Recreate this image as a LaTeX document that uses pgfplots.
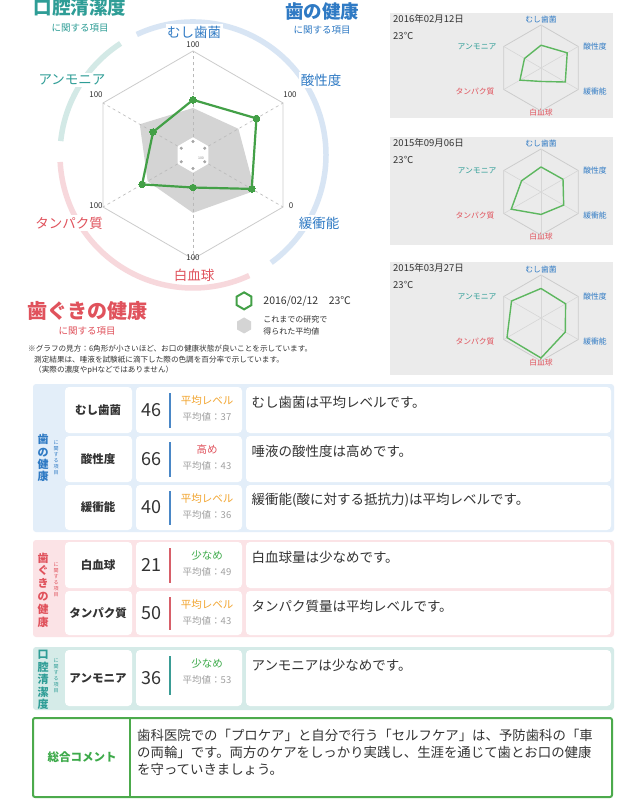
\documentclass[border=0pt]{standalone}
\usepackage{pgfplots}
\pgfplotsset{compat=1.18}
\usepgfplotslibrary{polar}
\usepackage{pgfplotstable}
\usepackage{fontspec}
\setmainfont{Noto Sans CJK JP}
\newcommand{\fs}[1]{\fontsize{#1}{#1}\selectfont}

\definecolor{cteal}{HTML}{2E9D96}
\definecolor{cblue}{HTML}{2F7AC4}
\definecolor{cred}{HTML}{E0525C}
\definecolor{arcteal}{HTML}{D3E9E6}
\definecolor{arcblue}{HTML}{D8E5F4}
\definecolor{arcred}{HTML}{F7D8DC}
\definecolor{cgreen}{HTML}{43A047}
\definecolor{pgreen}{HTML}{5DB75F}
\definecolor{gfill}{HTML}{D4D4D4}
\definecolor{ggrid}{HTML}{CCCCCC}
\definecolor{panel}{HTML}{EBEBEB}
\definecolor{corange}{HTML}{F2A530}
\definecolor{clgreen}{HTML}{3DAA4A}
\definecolor{txt}{HTML}{333333}
\definecolor{gtxt}{HTML}{A0A0A0}
\definecolor{bgblue}{HTML}{E3EEF9}
\definecolor{bgred}{HTML}{FBE3E6}
\definecolor{bgteal}{HTML}{D5EBE8}
\definecolor{barblue}{HTML}{4A87C6}
\definecolor{barred}{HTML}{D75F69}
\definecolor{barteal}{HTML}{3A9C95}
\definecolor{boxgreen}{HTML}{4CAA4C}

% angle, value, reversed scale flag (緩衝能 has 0 at the outside)
\pgfplotstableread{
a v rev
90 46 0
30 66 0
-30 40 1
-90 21 0
-150 50 0
-210 36 0
-270 46 0
}\cur
\pgfplotstableread{
a v rev
90 37 0
30 43 0
-30 36 1
-90 49 0
-150 43 0
-210 53 0
-270 37 0
}\avg
\pgfplotstableread{
a v rev
90 52 0
30 53 0
-30 45 1
-90 45 0
-150 77 0
-210 45 0
-270 52 0
}\pb
\pgfplotstableread{
a v rev
90 64 0
30 61 0
-30 40 1
-90 92 0
-150 90 0
-210 76 0
-270 64 0
}\pc

\newcommand{\cells}[2]{%
  \fill[white, rounded corners=4pt] (65,#1) rectangle (132,#2);
  \fill[white, rounded corners=4pt] (136,#1) rectangle (242,#2);
  \fill[white, rounded corners=4pt] (246,#1) rectangle (611,#2);}
\newcommand{\rowtext}[8]{%
  \node[font=\fs{11.5}\bfseries, text=txt] at (98,{(#1+#2)/2}) {#3};
  \node[font=\fs{18}, text=txt] at (151,{(#1+#2)/2}) {#4};
  \node[font=\fs{10.5}, text=#5] at (207,{#1+14}) {#6};
  \node[font=\fs{9.5}, text=gtxt] at (207,{#1+30}) {平均値：#7};
  \node[font=\fs{13.5}, text=txt, anchor=west] at (248,{#1+15}) {#8};}
\newcommand{\vbar}[3]{\draw[#3, line width=2.5pt] (170,{#1+6}) -- (170,{#2-5});}

\pgfplotsset{
  radar/.style={scale only axis, anchor=center, xmin=0, xmax=360, ymin=0, ymax=100, hide axis, clip=false},
  smallradar/.style={radar, width=86pt, height=86pt},
}
\newcommand{\hexgrid}{%
  \addplot[ggrid, line width=0.8pt, forget plot] coordinates {(90,100)(30,100)(-30,100)(-90,100)(-150,100)(-210,100)(-270,100)};}
\newcommand{\smallspokes}{%
  \addplot[ggrid!80, line width=0.6pt, forget plot] coordinates {(90,100)(-90,100)};
  \addplot[ggrid!80, line width=0.6pt, forget plot] coordinates {(30,100)(-150,100)};
  \addplot[ggrid!80, line width=0.6pt, forget plot] coordinates {(-30,100)(150,100)};}
\def\rexpr{13+0.87*(\thisrow{v}+\thisrow{rev}*(100-2*\thisrow{v}))}

\begin{document}
\begin{tikzpicture}[x=1pt, y=-1pt]
\fill[white] (0,0) rectangle (636,810);
\path[use as bounding box] (0,0) rectangle (636,810);
\coordinate (cmain) at (193,155);
\coordinate (cA) at (541,68);
\coordinate (cB) at (541,192);
\coordinate (cC) at (541,318);

% ---------- arcs around main radar ----------
\draw[arcblue, line width=5.5pt] (cmain) ++(115:133pt) arc[start angle=115, end angle=-54, radius=133pt];
\draw[arcred, line width=5.5pt] (cmain) ++(183:133pt) arc[start angle=183, end angle=295, radius=133pt];
\draw[arcteal, line width=5.5pt] (cmain) ++(174:133pt) arc[start angle=174, end angle=123, radius=133pt];

% ---------- main radar ----------
\begin{polaraxis}[radar, at={(cmain)}, width=208pt, height=208pt,
  reverse legend, legend cell align=left,
  legend style={at={(0.69,-0.145)}, anchor=north west, draw=none, fill=none, row sep=3pt,
    column sep=9pt, text=txt}]
\addplot[fill=gfill, draw=none,
  legend image code/.code={\fill[gfill] (90:8pt)--(30:8pt)--(-30:8pt)--(-90:8pt)--(210:8pt)--(150:8pt)--cycle;}]
  table[x=a, y expr={\rexpr}] {\avg};
\addlegendentry[font=\fontsize{8}{12}\selectfont, align=left]{これまでの研究で\\得られた平均値}
\addplot[fill=white, draw=none, forget plot] coordinates {(90,17)(30,17)(-30,17)(-90,17)(-150,17)(-210,17)};
\addplot[only marks, mark=*, mark size=1.3pt, color=gray!70, forget plot] coordinates {(90,13)(30,13)(-30,13)(-90,13)(-150,13)(-210,13)};
\addplot[gray!55, dashed, line width=0.6pt, forget plot] coordinates {(90,17)(90,100)};
\addplot[gray!55, dashed, line width=0.6pt, forget plot] coordinates {(30,17)(30,100)};
\addplot[gray!55, dashed, line width=0.6pt, forget plot] coordinates {(-30,17)(-30,100)};
\addplot[gray!55, dashed, line width=0.6pt, forget plot] coordinates {(-90,17)(-90,100)};
\addplot[gray!55, dashed, line width=0.6pt, forget plot] coordinates {(-150,17)(-150,100)};
\addplot[gray!55, dashed, line width=0.6pt, forget plot] coordinates {(-210,17)(-210,100)};
\hexgrid
\addplot[cgreen, line width=2.2pt, mark=*, mark size=3.3pt, mark options={fill=cgreen, draw=cgreen, line width=0pt},
  legend image code/.code={\draw[cgreen, line width=2pt] (90:8.5pt)--(30:8.5pt)--(-30:8.5pt)--(-90:8.5pt)--(210:8.5pt)--(150:8.5pt)--cycle;}]
  table[x=a, y expr={\rexpr}] {\cur};
\addlegendentry[font=\fs{10.5}]{2016/02/12　23℃}
\end{polaraxis}
\node[font=\fs{3.5}, text=gray] at (201,158) {100};

% main labels
\node[font=\fs{18.5}\bfseries, text=cteal] at (80,8) {口腔清潔度};
\node[font=\fs{9.5}, text=cteal] at (80,28) {に関する項目};
\node[font=\fs{18.5}\bfseries, text=cblue] at (322,12) {歯の健康};
\node[font=\fs{9.5}, text=cblue] at (322,30) {に関する項目};
\tikzset{mlab/.style={font=\fs{13.5}, fill=white, inner sep=1.5pt}}
\node[mlab, text=cblue] at (194,32) {むし歯菌};
\node[mlab, text=cblue] at (321,80) {酸性度};
\node[mlab, text=cteal] at (72,80) {アンモニア};
\node[mlab, text=cred] at (69,223) {タンパク質};
\node[mlab, text=cblue] at (319,223) {緩衝能};
\node[mlab, text=cred] at (194,275) {白血球};
\tikzset{hlab/.style={font=\fs{8}, text=txt, inner sep=0pt}}
\node[hlab] at (193,45) {100};
\node[hlab] at (290,95) {100};
\node[hlab] at (96,95) {100};
\node[hlab] at (96,206) {100};
\node[hlab] at (291,206) {0};
\node[hlab] at (193,258) {100};
\node[font=\fs{20}\bfseries, text=cred] at (87,311) {歯ぐきの健康};
\node[font=\fs{9.5}, text=cred] at (87,331) {に関する項目};

% note
\tikzset{notex/.style={font=\fs{7.6}, text=txt, anchor=west, inner sep=0pt}}
\node[notex] at (28,349) {※グラフの見方：6角形が小さいほど、お口の健康状態が良いことを示しています。};
\node[notex] at (34,359.5) {測定結果は、唾液を試験紙に滴下した際の色調を百分率で示しています。};
\node[notex] at (34,370) {（実際の濃度やpHなどではありません）};

% ---------- right panels ----------
\fill[panel] (390,13) rectangle (613,118);
\fill[panel] (390,137) rectangle (613,245);
\fill[panel] (390,262) rectangle (613,375);
\foreach \t/\d in {13/2016年02月12日, 137/2015年09月06日, 262/2015年03月27日}{
  \node[font=\fs{9.5}, text=txt, anchor=west, inner sep=0pt] at (393,\t+6) {\d};
  \node[font=\fs{9.5}, text=txt, anchor=west, inner sep=0pt] at (393,\t+23) {23℃};
}
\foreach \c in {68,192,318}{
  \node[font=\fs{7.8}, text=cblue] at (541,\c-48) {むし歯菌};
  \node[font=\fs{7.8}, text=cblue] at (595,\c-21) {酸性度};
  \node[font=\fs{7.8}, text=cblue] at (595,\c+24) {緩衝能};
  \node[font=\fs{7.8}, text=cred] at (541,\c+45) {白血球};
  \node[font=\fs{7.8}, text=cred] at (475,\c+24) {タンパク質};
  \node[font=\fs{7.8}, text=cteal] at (477,\c-21) {アンモニア};
}
\begin{polaraxis}[smallradar, at={(cA)}]
\hexgrid \smallspokes
\addplot[pgreen, line width=1.4pt] table[x=a, y expr={\rexpr}] {\cur};
\end{polaraxis}
\begin{polaraxis}[smallradar, at={(cB)}]
\hexgrid \smallspokes
\addplot[pgreen, line width=1.4pt] table[x=a, y expr={\rexpr}] {\pb};
\end{polaraxis}
\begin{polaraxis}[smallradar, at={(cC)}]
\hexgrid \smallspokes
\addplot[pgreen, line width=1.4pt] table[x=a, y expr={\rexpr}] {\pc};
\end{polaraxis}

% ---------- tables ----------
% section 1
\fill[bgblue, rounded corners=3pt] (33,384) rectangle (614,532);
\cells{387}{433}\cells{436}{482}\cells{485}{530}
\node[font=\fontsize{11}{12.3}\selectfont\bfseries, text=cblue, align=center, inner sep=0pt] at (43,458) {歯\\の\\健\\康};
\node[font=\fontsize{5}{6}\selectfont, text=cblue, align=center, inner sep=0pt] at (56,458) {に\\関\\す\\る\\項\\目};
\rowtext{387}{433}{むし歯菌}{46}{corange}{平均レベル}{37}{むし歯菌は平均レベルです。}\vbar{387}{433}{barblue}
\rowtext{436}{482}{酸性度}{66}{cred}{高め}{43}{唾液の酸性度は高めです。}\vbar{436}{482}{barblue}
\rowtext{485}{530}{緩衝能}{40}{corange}{平均レベル}{36}{緩衝能(酸に対する抵抗力)は平均レベルです。}\vbar{485}{530}{barblue}

% section 2
\fill[bgred, rounded corners=3pt] (33,540) rectangle (614,637);
\cells{542}{588}\cells{591}{635}
\node[font=\fontsize{11}{12.8}\selectfont\bfseries, text=cred, align=center, inner sep=0pt] at (43,590) {歯\\ぐ\\き\\の\\健\\康};
\node[font=\fontsize{5}{6}\selectfont, text=cred, align=center, inner sep=0pt] at (56,580) {に\\関\\す\\る\\項\\目};
\rowtext{542}{588}{白血球}{21}{clgreen}{少なめ}{49}{白血球量は少なめです。}\vbar{542}{588}{barred}
\rowtext{591}{635}{タンパク質}{50}{corange}{平均レベル}{43}{タンパク質量は平均レベルです。}\vbar{591}{635}{barred}

% section 3
\fill[bgteal, rounded corners=3pt] (33,647) rectangle (614,710);
\cells{650}{706}
\node[font=\fontsize{11}{12.5}\selectfont\bfseries, text=cteal, align=center, inner sep=0pt] at (43,680) {口\\腔\\清\\潔\\度};
\node[font=\fontsize{5}{6}\selectfont, text=cteal, align=center, inner sep=0pt] at (56,676) {に\\関\\す\\る\\項\\目};
\rowtext{650}{706}{アンモニア}{36}{clgreen}{少なめ}{53}{アンモニアは少なめです。}\vbar{650}{700}{barteal}

% section 4
\draw[boxgreen, line width=2pt, rounded corners=2pt] (33,718) rectangle (612,797);
\draw[boxgreen, line width=2pt] (130,718) -- (130,797);
\node[font=\fs{11.5}\bfseries, text=clgreen] at (82,757) {総合コメント};
\tikzset{cmtx/.style={font=\fs{13.4}, text=txt, anchor=west, inner sep=0pt}}
\node[cmtx] at (137,735) {歯科医院での「プロケア」と自分で行う「セルフケア」は、予防歯科の「車};
\node[cmtx] at (137,752) {の両輪」です。両方のケアをしっかり実践し、生涯を通じて歯とお口の健康};
\node[cmtx] at (137,769) {を守っていきましょう。};
\end{tikzpicture}
\end{document}
